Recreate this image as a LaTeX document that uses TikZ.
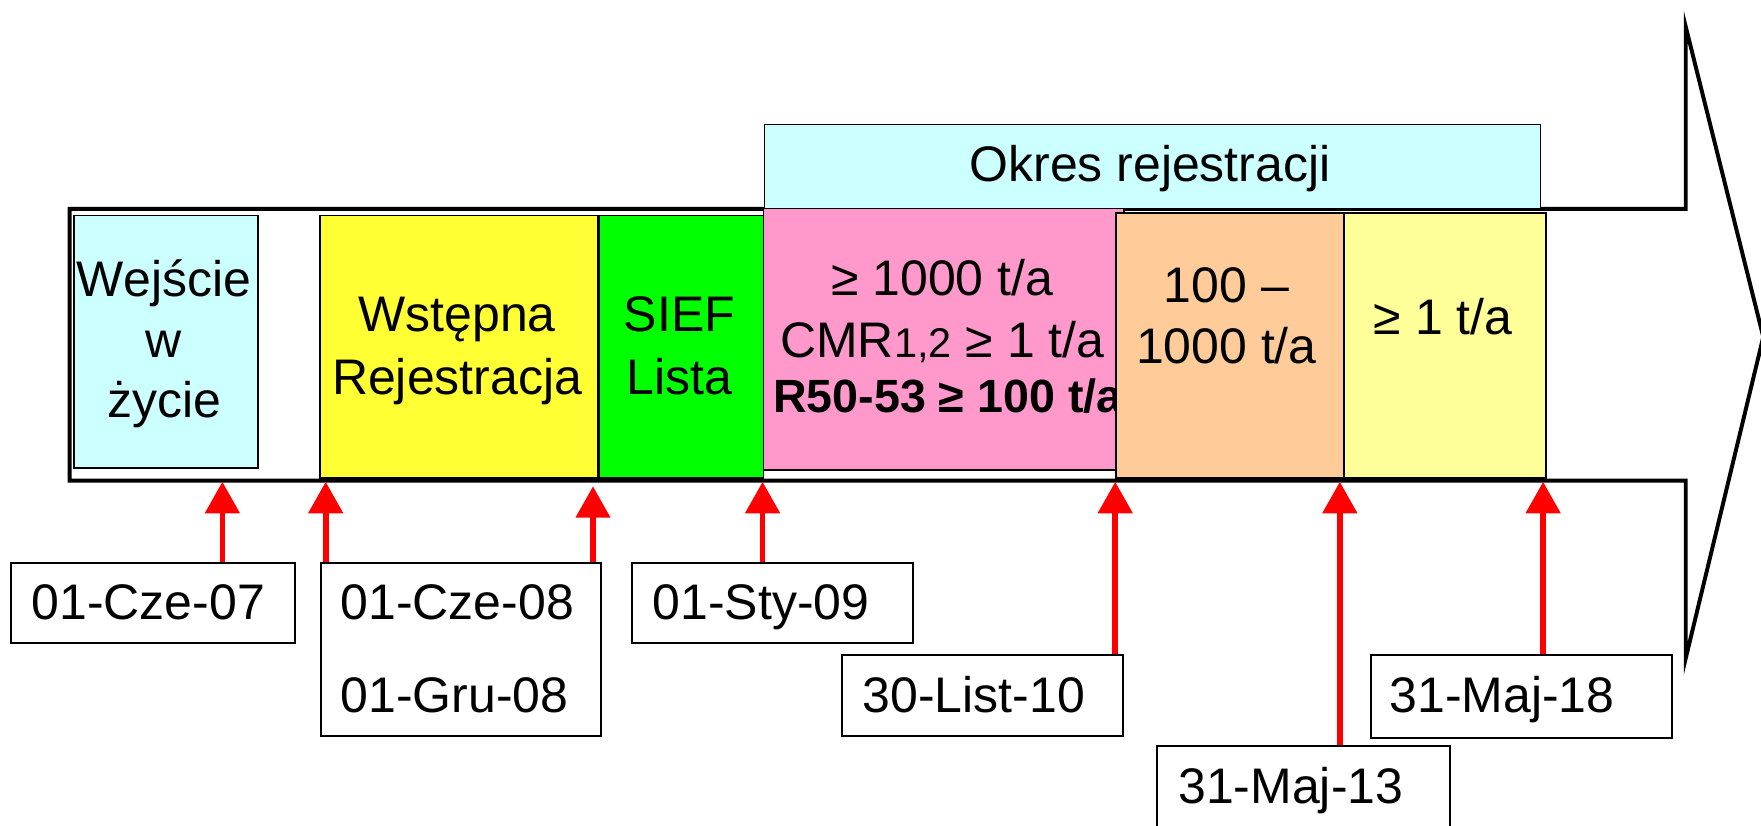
\documentclass[tikz,border=0pt]{standalone}
\usepackage{fontspec}
\setmainfont{Liberation Sans}
\usetikzlibrary{arrows.meta}
\definecolor{lcyan}{HTML}{CCFFFF}
\definecolor{ryellow}{HTML}{FFFF33}
\definecolor{rgreen}{HTML}{00FF00}
\definecolor{rpink}{HTML}{FF99CC}
\definecolor{rorange}{HTML}{FFCC99}
\definecolor{lyellow}{HTML}{FFFF99}
\begin{document}
\begin{tikzpicture}[x=1pt,y=-1pt,
  txt/.style={font=\fontsize{44.5}{53}\selectfont, inner sep=0pt, anchor=base},
  dtxt/.style={font=\fontsize{44.5}{53}\selectfont, inner sep=0pt, anchor=base west},
  cbox/.style={draw=black, line width=1.5pt, inner sep=0pt, anchor=north west},
  dbox/.style={draw=black, line width=1.8pt, fill=white, inner sep=0pt, anchor=north west},
  redarr/.style={draw=red, line width=5pt, -{Triangle[length=28pt,width=30pt]}},
  outline/.style={draw=black, line width=3.5pt, line join=miter},
]
\useasboundingbox (0,0) rectangle (1568,735);
\clip (0,0) rectangle (1568,735);
\fill[white] (0,0) rectangle (1568,735);

% big arrow outline
\draw[outline] (62,186) -- (1501,186) -- (1501,24) -- (1570,300) -- (1501,586) -- (1501,428) -- (62,428) -- cycle;

% period header
\node[cbox, fill=lcyan, minimum width=691pt, minimum height=75pt] (okresbox) at (680,110) {};
\node[txt] (okres) at (1024,162) {Okres rejestracji};

% phase boxes
\node[cbox, fill=lcyan, minimum width=164pt, minimum height=225pt] (wejbox) at (65,191) {};
\node[cbox, fill=ryellow, minimum width=248pt, minimum height=234pt] (wstbox) at (284,191) {};
\node[cbox, fill=rgreen, minimum width=146pt, minimum height=234pt] (siefbox) at (533,191) {};
\node[cbox, fill=rpink, minimum width=321pt, minimum height=233pt] (pinkbox) at (679,185) {};
\node[txt] (p1) at (839,263) {≥ 1000 t/a};
\node[txt] (p2) at (839,318) {CMR{\fontsize{37}{40}\selectfont 1,2} ≥ 1 t/a};
\node[txt, font=\fontsize{41.5}{50}\selectfont\bfseries] (p3) at (844,367) {R50-53 ≥ 100 t/a};
\node[cbox, fill=rorange, minimum width=203pt, minimum height=236pt] (orbox) at (993,189) {};
\node[cbox, fill=lyellow, minimum width=180pt, minimum height=236pt] (lybox) at (1196,189) {};

\node[txt] (w1) at (146,264) {Wejście};
\node[txt] (w2) at (146,318) {w};
\node[txt] (w3) at (146,372) {życie};
\node[txt] (ws1) at (407,295) {Wstępna};
\node[txt] (ws2) at (407,351) {Rejestracja};
\node[txt] (s1) at (605,295) {SIEF};
\node[txt] (s2) at (605,351) {Lista};
\node[txt] (o1) at (1092,269) {100 –};
\node[txt] (o2) at (1092,324) {1000 t/a};
\node[txt] (ly1) at (1285,298) {≥ 1 t/a};

% date boxes
\node[dbox, minimum width=253pt, minimum height=72pt] (d1) at (9,500) {};
\node[dbox, minimum width=249pt, minimum height=154pt] (d2) at (285,500) {};
\node[dbox, minimum width=250pt, minimum height=72pt] (d3) at (562,500) {};
\node[dbox, minimum width=250pt, minimum height=72pt] (d4) at (749,582) {};
\node[dbox, minimum width=261pt, minimum height=110pt] (d5) at (1029,663) {};
\node[dbox, minimum width=268pt, minimum height=74pt] (d6) at (1220,582) {};

\node[dtxt] (dt1) at (28,552) {01-Cze-07};
\node[dtxt] (dt2a) at (303,552) {01-Cze-08};
\node[dtxt] (dt2b) at (303,634) {01-Gru-08};
\node[dtxt] (dt3) at (581,552) {01-Sty-09};
\node[dtxt] (dt4) at (768,634) {30-List-10};
\node[dtxt] (dt5) at (1049,715) {31-Maj-13};
\node[dtxt] (dt6) at (1237,634) {31-Maj-18};

% timeline points
\coordinate (t1) at (198,429);
\coordinate (t2) at (290,429);
\coordinate (t3) at (528,433);
\coordinate (t4) at (679,429);
\coordinate (t5) at (993,429);
\coordinate (t6) at (1193,429);
\coordinate (t7) at (1374,429);

\draw[redarr] (d1.north -| t1) -- (t1);
\draw[redarr] (d2.north -| t2) -- (t2);
\draw[redarr] (d2.north -| t3) -- (t3);
\draw[redarr] (d3.north -| t4) -- (t4);
\draw[redarr] (d4.north -| t5) -- (t5);
\draw[redarr] (d5.north -| t6) -- (t6);
\draw[redarr] (d6.north -| t7) -- (t7);
\end{tikzpicture}
\end{document}
